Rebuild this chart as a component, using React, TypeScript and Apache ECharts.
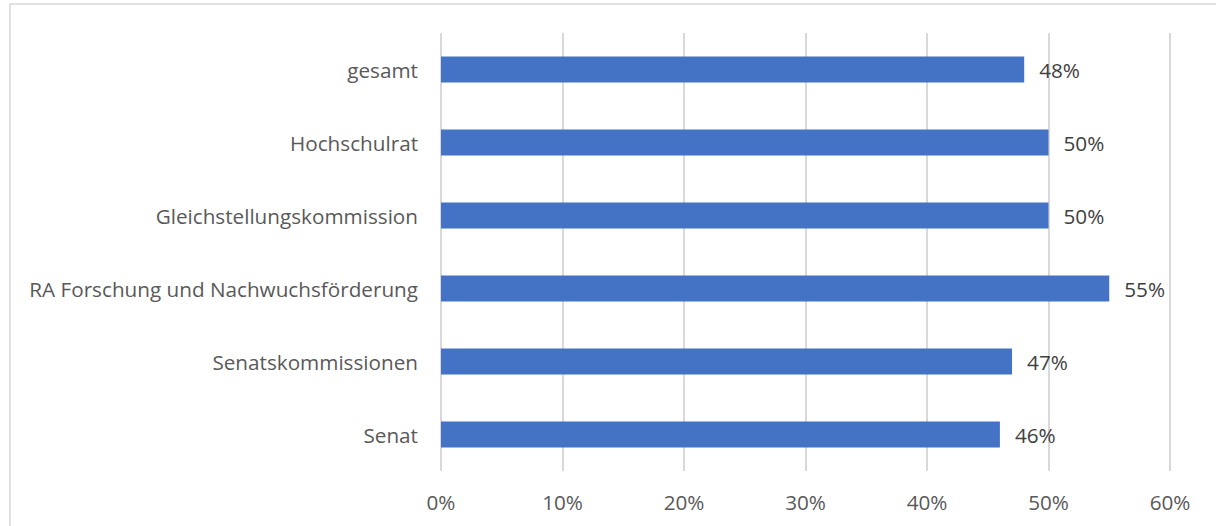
import React, { useEffect, useRef } from "react";
import * as echarts from "echarts";

const categories = [
  "gesamt",
  "Hochschulrat",
  "Gleichstellungskommission",
  "RA Forschung und Nachwuchsförderung",
  "Senatskommissionen",
  "Senat",
];
const values = [0.48, 0.5, 0.5, 0.55, 0.47, 0.46];
const tickMin = 0;
const tickMax = 0.6;
const tickStep = 0.1;

const FONT = "'Open Sans', 'Noto Sans', sans-serif";
const FS = 20.7;

export default function App() {
  const ref = useRef<HTMLDivElement>(null);
  useEffect(() => {
    if (!ref.current) return;
    const chart = echarts.init(ref.current, null, { renderer: "svg" });
    const pct = (v: number) => Math.round(v * 100) + "%";
    chart.setOption({
      animation: false,
      backgroundColor: "#ffffff",
      graphic: [
        {
          type: "rect",
          shape: { x: 10, y: 4, width: 1220, height: 540 },
          style: { fill: "none", stroke: "#d9d9d9", lineWidth: 1.5 },
          silent: true,
          z: -1,
        },
      ],
      grid: { left: 441, right: 46, top: 33, bottom: 55, containLabel: false },
      xAxis: {
        type: "value",
        min: tickMin,
        max: tickMax,
        interval: tickStep,
        axisLine: { show: false },
        axisTick: { show: false },
        splitLine: { show: true, lineStyle: { color: "#d9d9d9", width: 2 } },
        axisLabel: {
          formatter: (v: number) => pct(v),
          color: "#595959",
          fontSize: FS,
          fontFamily: FONT,
          margin: 20,
        },
      },
      yAxis: {
        type: "category",
        data: categories,
        inverse: true,
        axisLine: { show: false },
        axisTick: { show: false },
        splitLine: { show: false },
        axisLabel: {
          color: "#595959",
          fontSize: FS,
          fontFamily: FONT,
          margin: 23,
        },
      },
      series: [
        {
          type: "bar",
          data: values,
          barWidth: 26,
          itemStyle: { color: "#4472C4" },
          label: {
            show: true,
            position: "right",
            distance: 15,
            color: "#404040",
            fontSize: FS,
            fontFamily: FONT,
            formatter: (p: any) => pct(p.value),
          },
        },
      ],
    });
    return () => chart.dispose();
  }, []);
  return (
    <div
      ref={ref}
      style={{ position: "fixed", left: 0, top: 0, width: 1216, height: 526 }}
    />
  );
}
